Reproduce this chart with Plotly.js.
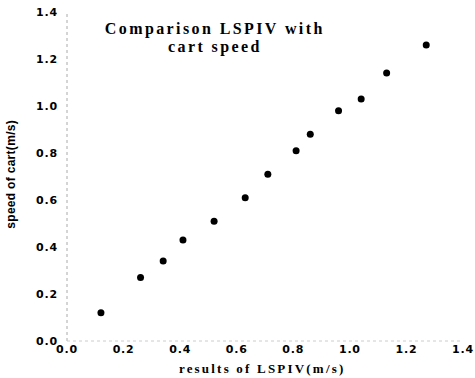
<!DOCTYPE html>
<html>
<head>
<meta charset="utf-8">
<script src="https://cdn.plot.ly/plotly-3.0.1.min.js"></script>
<style>
html,body{margin:0;padding:0;background:#fff;}
.annotation[data-index="0"] text, .annotation[data-index="1"] text{letter-spacing:2.4px;}
.annotation[data-index="2"] text{letter-spacing:2.2px;}
.annotation[data-index="3"] text{letter-spacing:0.3px;}
.xtick text, .ytick text{letter-spacing:0.8px;}
</style>
</head>
<body>
<div id="chart" style="width:475px;height:378px;"></div>
<script>
// LSPIV results (m/s)
var lspiv = [0.12, 0.26, 0.34, 0.41, 0.52, 0.63, 0.71, 0.81, 0.86, 0.96, 1.04, 1.13, 1.27];
// cart speed (m/s)
var cartSpeed = [0.12, 0.27, 0.34, 0.43, 0.51, 0.61, 0.71, 0.81, 0.88, 0.98, 1.03, 1.14, 1.26];
var tickVals = [0, 0.2, 0.4, 0.6, 0.8, 1.0, 1.2, 1.4];
var tickText = ['0.0', '0.2', '0.4', '0.6', '0.8', '1.0', '1.2', '1.4'];

var tickFont = {family: 'DejaVu Sans, Arial, sans-serif', size: 11, color: '#000', weight: 'bold'};
var serifBold = {family: 'Liberation Serif, Times New Roman, serif', color: '#000', weight: 'bold'};
var sansBold = {family: 'Liberation Sans, Arial, sans-serif', color: '#000', weight: 'bold'};

var trace = {
  x: lspiv, y: cartSpeed, type: 'scatter', mode: 'markers',
  marker: {color: '#000', size: 7}, showlegend: false, hoverinfo: 'none'
};

var layout = {
  width: 475, height: 378,
  margin: {l: 67, r: 12, t: 12, b: 37},
  paper_bgcolor: '#fff', plot_bgcolor: '#fff',
  xaxis: {range: [0, 1.4], tickvals: tickVals, ticktext: tickText, showgrid: false, zeroline: false,
          showline: false, ticks: '', tickfont: tickFont, fixedrange: true},
  yaxis: {range: [0, 1.4], tickvals: tickVals, ticktext: tickText, showgrid: false, zeroline: false,
          showline: false, ticks: '', ticklabelstandoff: 8, tickfont: tickFont, fixedrange: true},
  shapes: [
    {type: 'line', xref: 'paper', yref: 'paper', x0: 0, x1: 0, y0: 0, y1: 1,
     line: {color: '#aaa', width: 1, dash: 'dot'}},
    {type: 'line', xref: 'paper', yref: 'paper', x0: 0, x1: 1, y0: 0, y1: 0,
     line: {color: '#ccc', width: 1, dash: 'dot'}}
  ],
  annotations: [
    {text: 'Comparison LSPIV with', xref: 'paper', yref: 'paper',
     x: 0.374, y: 0.948, xanchor: 'center', yanchor: 'middle', showarrow: false,
     font: Object.assign({size: 16}, serifBold)},
    {text: 'cart speed', xref: 'paper', yref: 'paper',
     x: 0.374, y: 0.894, xanchor: 'center', yanchor: 'middle', showarrow: false,
     font: Object.assign({size: 16}, serifBold)},
    {text: 'results of LSPIV(m/s)', xref: 'paper', yref: 'paper',
     x: 0.492, y: -0.085, xanchor: 'center', yanchor: 'middle', showarrow: false,
     font: Object.assign({size: 13}, serifBold)},
    {text: 'speed of cart(m/s)', xref: 'paper', yref: 'paper', textangle: -90,
     x: -0.141, y: 0.505, xanchor: 'center', yanchor: 'middle', showarrow: false,
     font: Object.assign({size: 12}, sansBold)}
  ]
};

Plotly.newPlot('chart', [trace], layout, {staticPlot: true, displayModeBar: false});
</script>
</body>
</html>
